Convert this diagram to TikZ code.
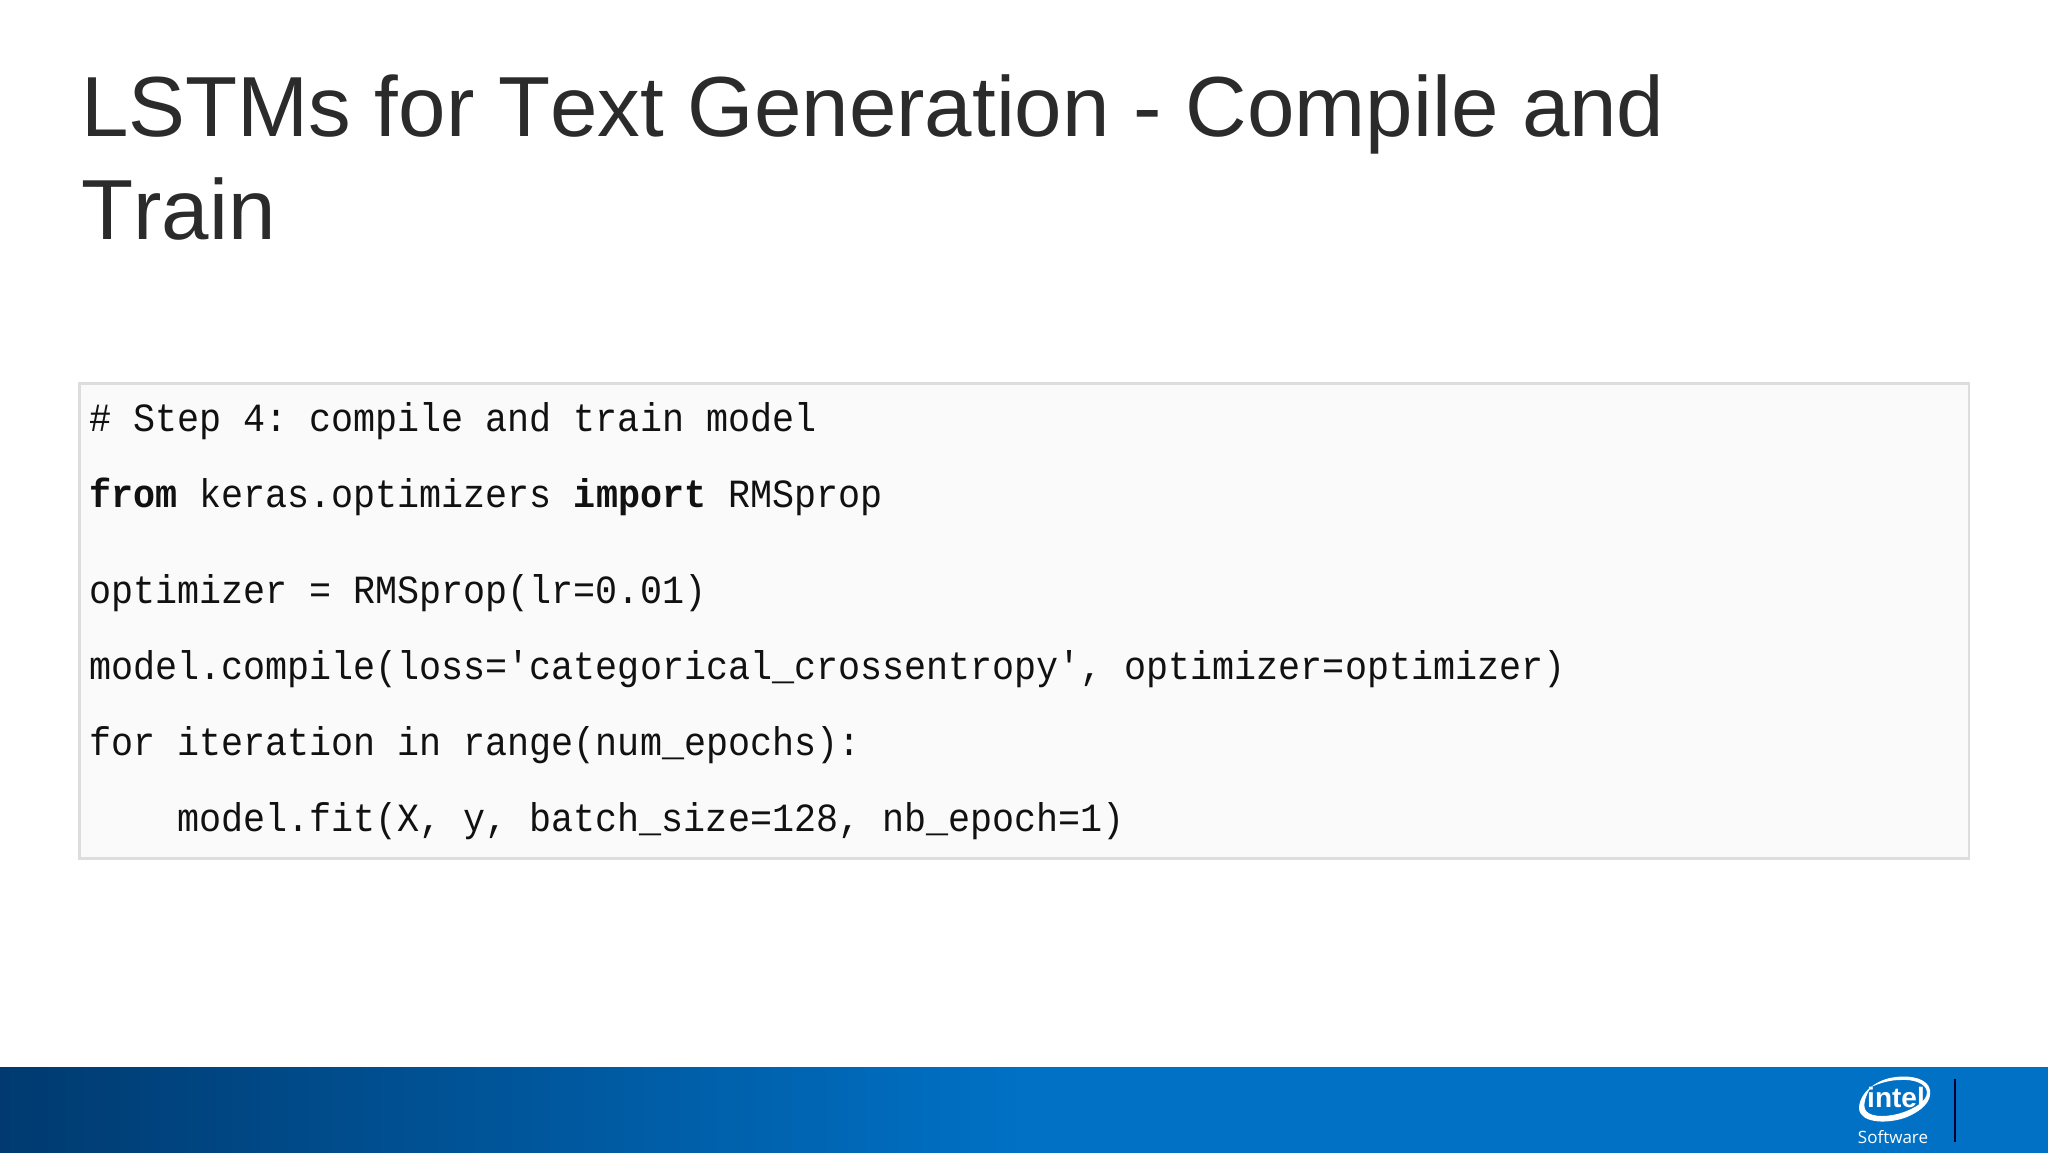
\documentclass[tikz,border=0pt]{standalone}
\usepackage{fontspec}
\setmainfont[Kerning=Off]{Liberation Sans}
\newfontfamily\codefont[FakeStretch=0.918]{Liberation Mono}
\newfontfamily\logofont{Liberation Sans}
\newfontfamily\softfont{Open Sans}
\definecolor{titlecol}{HTML}{2B2B2B}
\definecolor{codecol}{HTML}{111111}
\definecolor{boxfill}{HTML}{FAFAFA}
\definecolor{boxline}{HTML}{DDDDDD}
\definecolor{bardark}{HTML}{003A70}
\definecolor{barmid}{HTML}{0071C5}
\pgfdeclarehorizontalshading{barshade}{100bp}{color(0bp)=(bardark); color(25bp)=(bardark); color(50bp)=(barmid); color(75bp)=(barmid); color(100bp)=(barmid)}
\tikzset{
  x=1pt,y=-1pt,
  titletext/.style={anchor=base west,inner sep=0pt,text=titlecol,font=\fontsize{85.3}{86}\selectfont},
  codeline/.style={anchor=base west,inner sep=0pt,text=codecol,font=\codefont\fontsize{40}{40}\selectfont},
  logotext/.style={inner sep=0pt,text=white},
}
\newcommand{\kw}[1]{\textbf{#1}}
\begin{document}
\begin{tikzpicture}
\frenchspacing
\useasboundingbox (0,0) rectangle (2048,1152);
\fill[white] (0,0) rectangle (2048,1152);
\node[titletext] (t1) at (81,136) {LSTMs for Text Generation - Compile and};
\node[titletext] (t2) at (81,239) {Train};
\draw[boxline,fill=boxfill,line width=2.5pt] (79.5,383.5) rectangle (1969,858.5);
\node[codeline] (c1) at (89,431) {\#\ Step 4: compile and train model};
\node[codeline] (c2) at (89,507) {\kw{from} keras.optimizers \kw{import} RMSprop};
\node[codeline] (c3) at (89,603) {optimizer = RMSprop(lr=0.01)};
\node[codeline] (c4) at (89,679) {model.compile(loss='categorical\_crossentropy', optimizer=optimizer)};
\node[codeline] (c5) at (89,755) {for iteration in range(num\_epochs):};
\node[codeline] (c6) at (177,831) {model.fit(X, y, batch\_size=128, nb\_epoch=1)};
\shade[shading=barshade] (0,1067) rectangle (2048,1152);
% logo swoosh
\fill[white] (1871,1087) .. controls (1861,1094) and (1856,1108) .. (1861,1114) .. controls (1868,1124) and (1892,1123) .. (1907,1117) .. controls (1921,1111) and (1932,1102) .. (1930,1090) .. controls (1928,1079) and (1912,1075) .. (1896,1077) .. controls (1886,1078) and (1877,1082) .. (1871,1087) .. controls (1880,1083) and (1890,1080) .. (1900,1080) .. controls (1913,1079) and (1926,1083) .. (1927,1092) .. controls (1927,1101) and (1915,1108) .. (1904,1112) .. controls (1890,1117) and (1872,1118) .. (1866,1111) .. controls (1862,1105) and (1866,1095) .. (1871,1087) -- cycle;
\node[logotext,font=\logofont\bfseries\fontsize{28}{28}\selectfont,anchor=base] (logo) at (1896,1107) {intel};
\node[logotext,font=\softfont\fontsize{17}{17}\selectfont] (sw) at (1893,1137) {Software};
\coordinate (bartop) at (1955,1079);
\coordinate (barbot) at (1955,1142);
\draw[black!80!blue,line width=2.5pt] (bartop) -- (barbot);
\end{tikzpicture}
\end{document}
